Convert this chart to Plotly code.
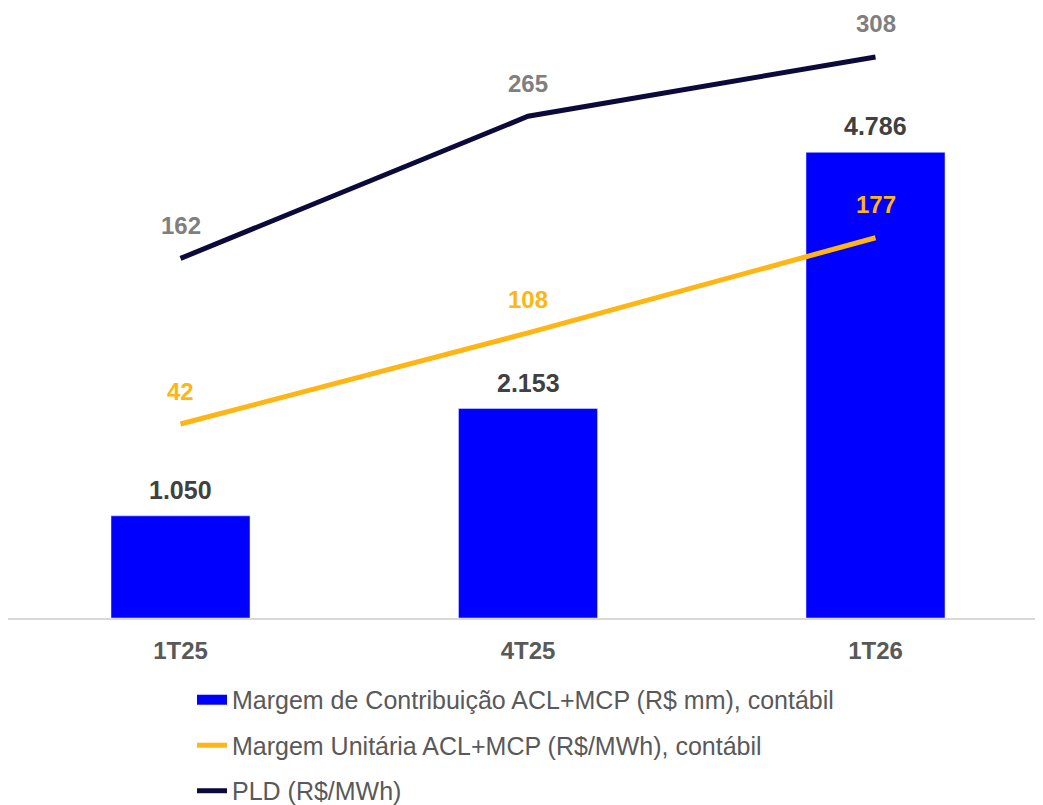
import plotly.graph_objects as go

categories = ["1T25", "4T25", "1T26"]
margem_contrib = [1050, 2153, 4786]
margem_unit = [42, 108, 177]
pld = [162, 265, 308]

name_bar = "Margem de Contribuição ACL+MCP (R$ mm), contábil"
name_unit = "Margem Unitária ACL+MCP (R$/MWh), contábil"
name_pld = "PLD (R$/MWh)"

BLUE = "#0000FF"
YELLOW = "#FFB514"
NAVY = "#0B0A3A"
FONT = "Liberation Sans, Arial, sans-serif"


def fmt(v):
    return f"{v:,}".replace(",", ".")


fig = go.Figure()
fig.add_trace(go.Bar(
    x=categories, y=margem_contrib, name=name_bar, marker_color=BLUE,
    width=0.4, legendgroup="a", yaxis="y", showlegend=False,
))
# legend entry for the bars (wide rectangle key, as in the reference)
fig.add_trace(go.Scatter(
    x=[None], y=[None], name=name_bar, mode="lines",
    line=dict(color=BLUE, width=14), legendgroup="a", yaxis="y",
))
fig.add_trace(go.Scatter(
    x=categories, y=margem_unit, name=name_unit, mode="lines",
    line=dict(color=YELLOW, width=5), legendgroup="b", yaxis="y2",
))
fig.add_trace(go.Scatter(
    x=categories, y=pld, name=name_pld, mode="lines",
    line=dict(color=NAVY, width=5), legendgroup="c", yaxis="y2",
))

annotations = []
for c, v in zip(categories, margem_contrib):
    annotations.append(dict(x=c, y=v, xref="x", yref="y", text=f"<b>{fmt(v)}</b>",
                            showarrow=False, yshift=26,
                            font=dict(family=FONT, size=25, color="#404040", weight="bold")))
for c, v in zip(categories, margem_unit):
    annotations.append(dict(x=c, y=v, xref="x", yref="y2", text=f"<b>{fmt(v)}</b>",
                            showarrow=False, yshift=33,
                            font=dict(family=FONT, size=24, color=YELLOW, weight="bold")))
for c, v in zip(categories, pld):
    annotations.append(dict(x=c, y=v, xref="x", yref="y2", text=f"<b>{fmt(v)}</b>",
                            showarrow=False, yshift=33,
                            font=dict(family=FONT, size=24, color="#7F7F7F", weight="bold")))

fig.update_layout(
    width=1043, height=805,
    margin=dict(l=0, r=0, t=2, b=195, autoexpand=False),
    paper_bgcolor="white", plot_bgcolor="white",
    font=dict(family=FONT, color="#595959"),
    showlegend=True,
    legend=dict(
        x=0.1764, xanchor="left", y=-0.097, yanchor="top",
        orientation="v", traceorder="grouped", tracegroupgap=10,
        font=dict(family=FONT, size=25, color="#595959"),
        bgcolor="rgba(0,0,0,0)",
    ),
    xaxis=dict(
        type="category", range=[-0.4964, 2.5050],
        showline=True, linecolor="#D9D9D9", linewidth=2,
        showgrid=False, zeroline=False, ticks="",
        ticklabelstandoff=10,
        tickfont=dict(family=FONT, size=24, color="#595959", weight="bold"),
    ),
    yaxis=dict(range=[0, 6249], visible=False, showgrid=False, zeroline=False),
    yaxis2=dict(range=[-98.55, 342.0], overlaying="y", side="right",
                visible=False, showgrid=False, zeroline=False),
    annotations=annotations,
)

fig.write_html("out.html")
